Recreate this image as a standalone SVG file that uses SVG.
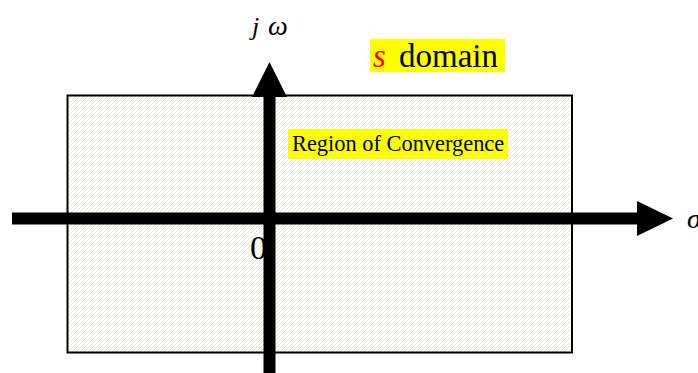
<svg xmlns="http://www.w3.org/2000/svg" width="698" height="373" viewBox="0 0 698 373">
  <style>
    .serif { font-family: "Liberation Serif", "Times New Roman", serif; }
    .ital { font-style: italic; }
    .axis { fill: #000; stroke: none; }
    .hl { fill: #ffff00; }
  </style>
  <defs>
    <pattern id="hatch" patternUnits="userSpaceOnUse" width="4" height="4">
      <rect width="4" height="4" fill="#ffffff"/>
      <path d="M-1,1 L1,-1 M0,4 L4,0 M3,5 L5,3" stroke="#ebe8da" stroke-width="1"/>
    </pattern>
  </defs>
  <rect width="698" height="373" fill="#ffffff"/>

  <g id="plane">
    <rect x="67.5" y="95.5" width="504.5" height="257" fill="url(#hatch)" stroke="#000" stroke-width="2"/>
  </g>

  <g id="roc-label">
    <rect class="hl" x="288" y="129" width="220" height="30"/>
    <text class="serif" x="292" y="150.5" font-size="22.4" fill="#000">Region of Convergence</text>
  </g>

  <g id="s-domain-label">
    <rect class="hl" x="370" y="39" width="135" height="33"/>
    <text class="serif ital" x="373" y="66.5" font-size="33" fill="#ff0000">s</text>
    <text class="serif" x="399" y="66.5" font-size="33" fill="#000">domain</text>
  </g>

  <g id="origin-label">
    <text class="serif" x="250" y="259" font-size="34" fill="#000">0</text>
  </g>

  <g id="connectors">
    <rect class="axis" x="12" y="212.5" width="626" height="12"/>
    <polygon class="axis" points="637,201 673,218.5 637,236"/>
    <rect class="axis" x="263.5" y="96" width="12" height="277"/>
    <polygon class="axis" points="252,97 269.5,62 287,97"/>
  </g>

  <g id="jw-label">
    <text class="serif ital" x="252" y="35" font-size="26" fill="#000">j</text>
    <text class="serif ital" x="268" y="35" font-size="28" fill="#000">ω</text>
  </g>

  <g id="sigma-label">
    <text class="serif ital" x="687" y="228" font-size="28" fill="#000">σ</text>
  </g>
</svg>
